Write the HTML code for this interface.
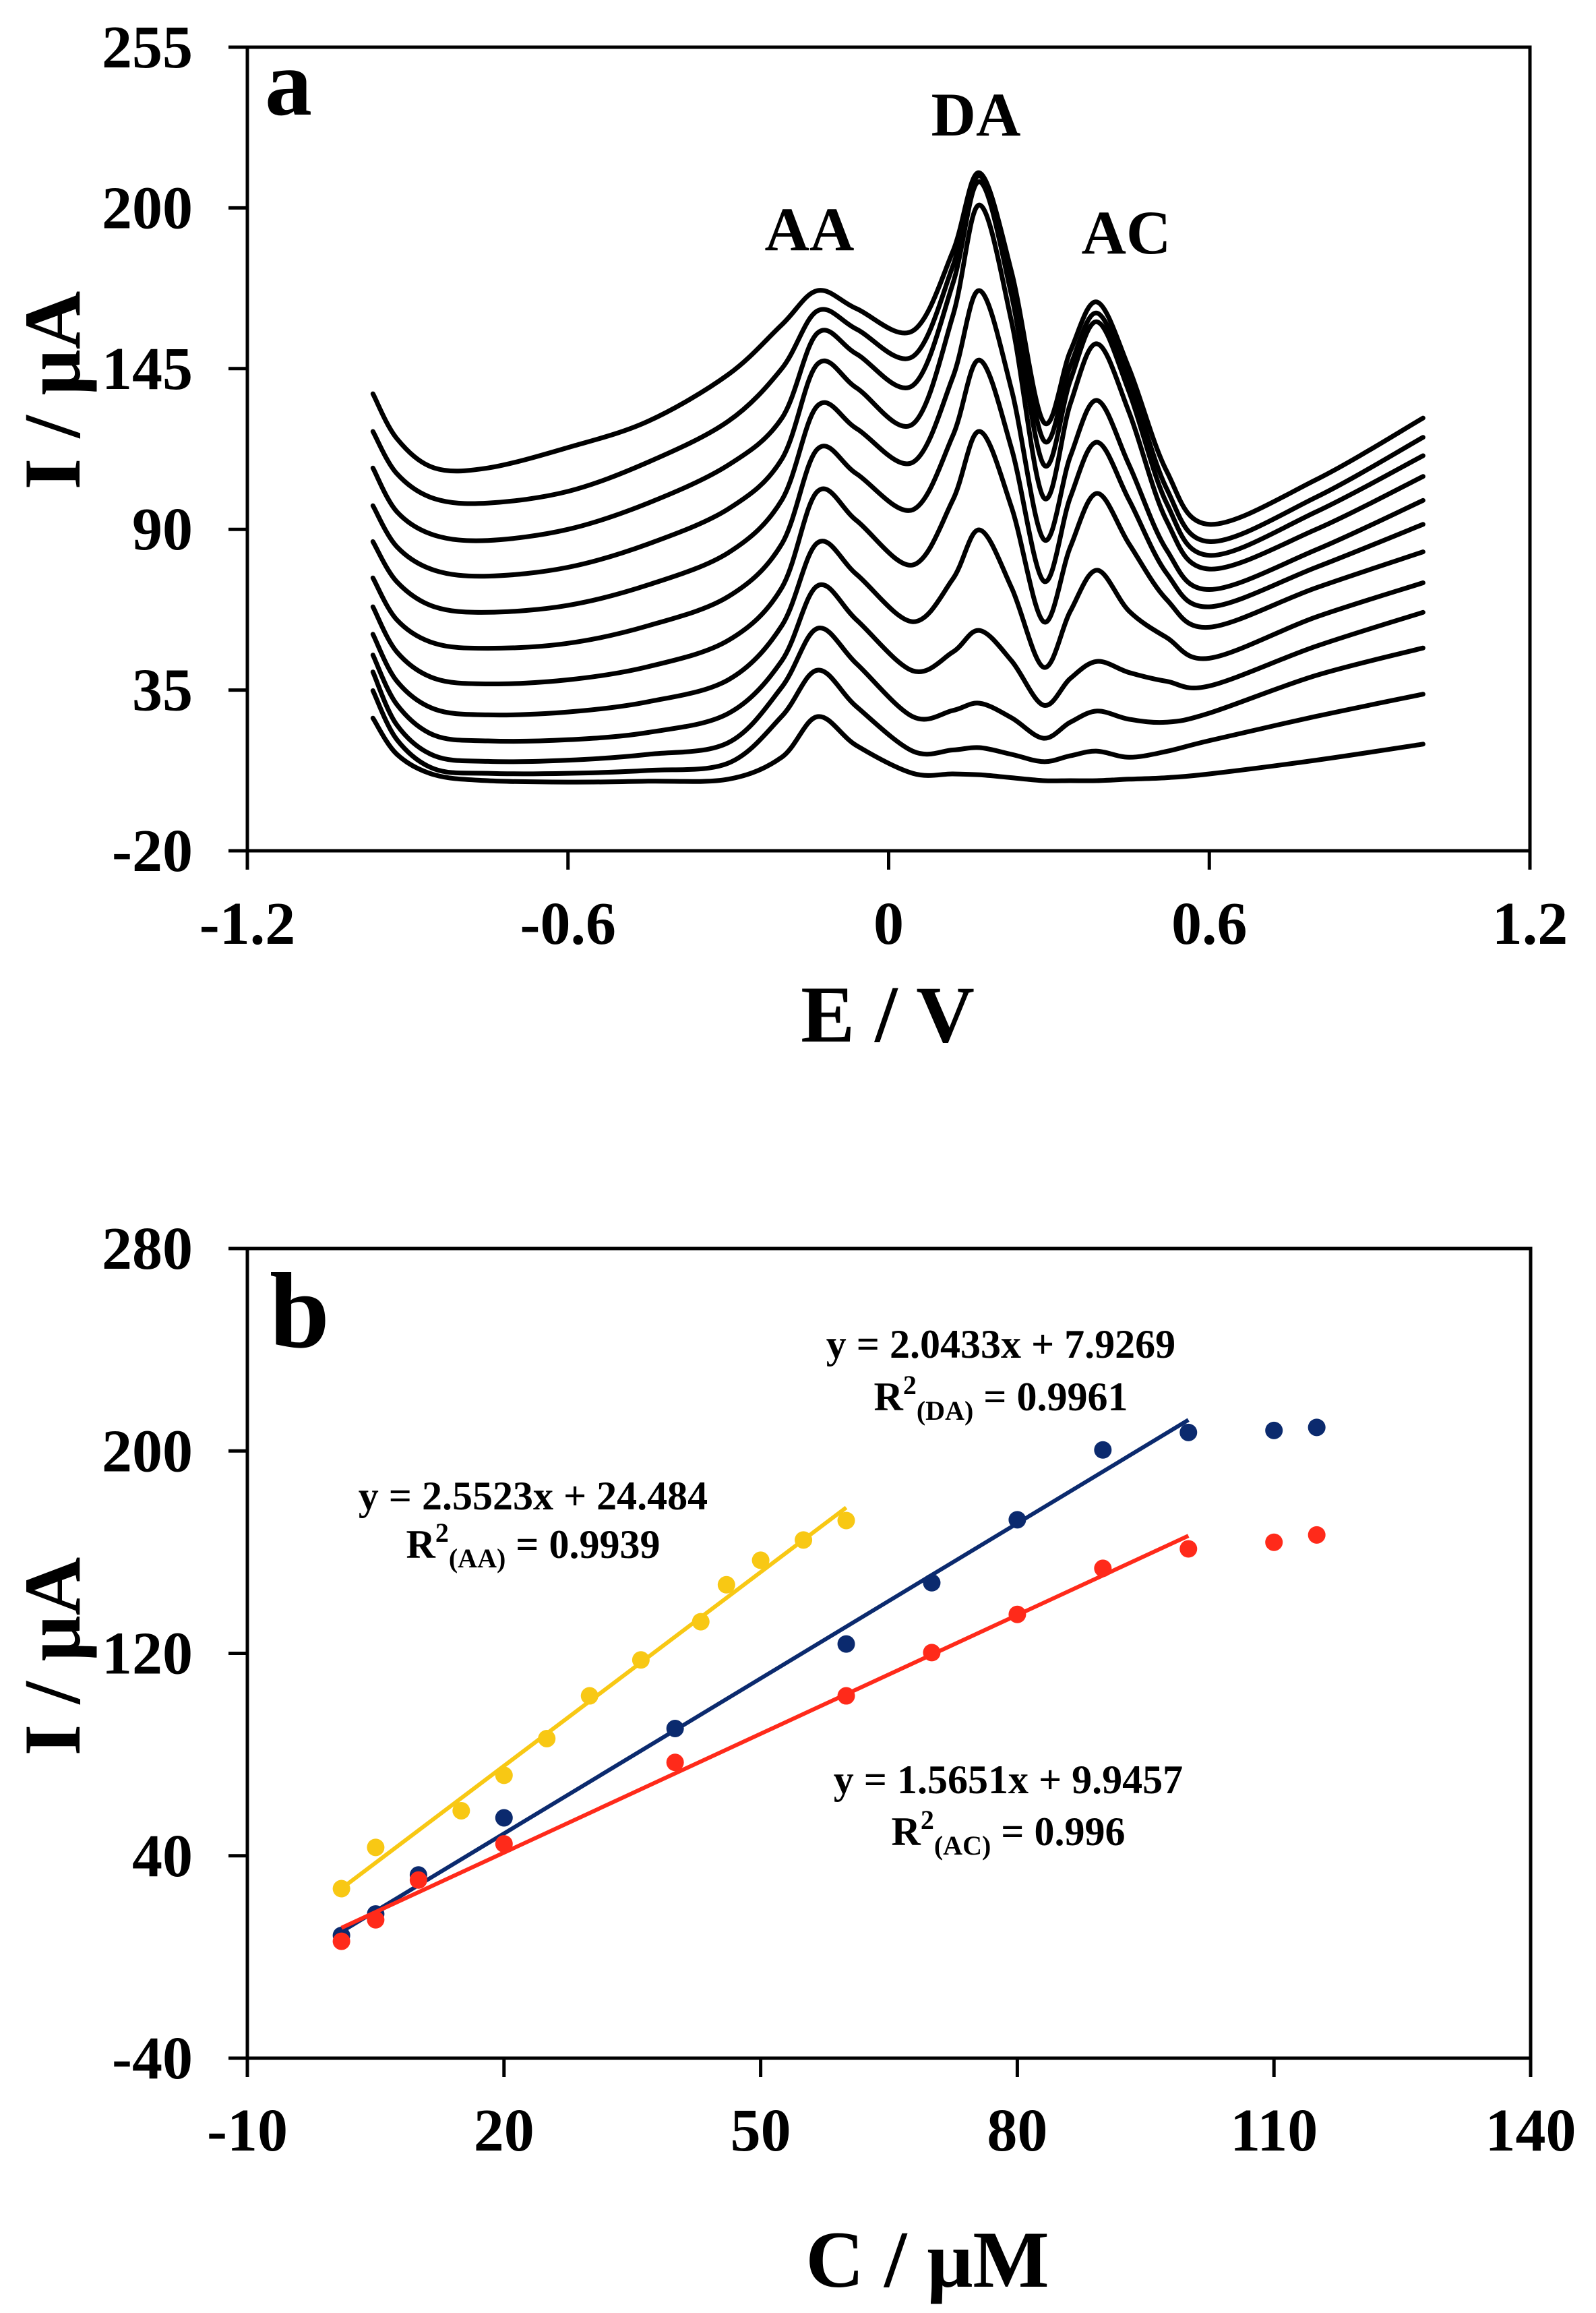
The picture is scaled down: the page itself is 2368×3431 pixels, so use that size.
<!DOCTYPE html>
<html><head><meta charset="utf-8"><style>
html,body{margin:0;padding:0;background:#fff}
svg{display:block}
text{font-family:"Liberation Serif",serif;font-weight:bold;fill:#000}
</style></head><body>
<svg id="fig" width="2368" height="3431" viewBox="0 0 2368 3431" xmlns="http://www.w3.org/2000/svg">
<g id="pa"></g>
<g id="pb"></g>
</svg>
<script>
// ---------- Panel a data ----------
const aXTicks = [-1.2, -0.6, 0, 0.6, 1.2];
const aXTickLabels = ["-1.2", "-0.6", "0", "0.6", "1.2"];
const aYTicks = [255, 200, 145, 90, 35, -20];
const aYTickLabels = ["255", "200", "145", "90", "35", "-20"];
const aE = [-0.965, -0.92, -0.85, -0.75, -0.6, -0.45, -0.3, -0.2, -0.133, -0.06, 0.045, 0.12, 0.17, 0.23, 0.29, 0.34, 0.39, 0.45, 0.52, 0.6, 0.8, 1.0];
const aC0  = [25.4, 13, 6, 4, 3.5, 3.8, 4.5, 12, 25.9, 16, 6.5, 6.3, 6, 5, 4, 4, 4, 4.5, 5, 6.3, 11, 16.5];
const aC1  = [34.8, 18, 8, 6.5, 6.5, 7.5, 10, 26, 41.8, 29.3, 14.1, 14.5, 15.3, 13, 10.5, 12.5, 14.1, 12, 14, 17.7, 26, 33.6];
const aC2  = [41.2, 23, 12.5, 10.6, 11, 13, 17, 36, 56.1, 44, 25.9, 28, 30.5, 25.5, 18.5, 24, 27.8, 25, 24, 27.1, 40, 49.4];
const aC3  = [47.0, 30, 19.5, 17.6, 18, 20.5, 27, 45, 70.7, 59, 41.6, 48, 55.4, 45, 29.8, 39, 44.8, 41, 38, 36.4, 50, 61.6];
const aC4  = [54.1, 38, 28.5, 26.5, 27.5, 31, 38.5, 57, 85.4, 74.6, 58.4, 73, 89.8, 70, 42.8, 62, 76, 62, 53, 45.9, 60, 71.7];
const aC5  = [63.5, 48, 39, 37.1, 38.5, 43, 52, 70, 103, 93, 77.8, 100, 123.5, 97.5, 58.4, 84, 102.3, 85, 66, 56.5, 70, 82.3];
const aC6  = [73.4, 59, 51, 49.3, 51, 57, 67, 85, 117.5, 109, 96.7, 122, 147.9, 117.6, 72.3, 101, 119.8, 100, 75, 63.5, 77, 91.7];
const aC7  = [85.8, 72, 63.5, 61.6, 64, 71, 82, 100, 132.3, 124.5, 112.9, 142, 171.7, 137.7, 86.6, 115, 134.1, 112, 83, 69.4, 83, 99.9];
const aC8  = [98.1, 84, 76, 74, 77, 85, 97, 114, 146.6, 138.4, 126, 163, 201, 161, 100.9, 133, 153.5, 130, 93, 76.4, 90, 108.1];
const aC9  = [111.0, 96, 88, 86.2, 90, 99, 112, 128, 157.2, 150, 139.2, 174, 209, 170, 112.2, 141, 161, 137, 99, 81.1, 96, 115.2];
const aC10 = [123.5, 109, 100.5, 99, 103, 113, 127, 145, 164.8, 158.5, 149.1, 180, 211, 175, 120.5, 146, 164, 141, 104, 85.8, 101, 121.5];
const aC11 = [136.4, 121, 111, 111, 118, 127, 143, 160, 171.7, 165.5, 157.9, 185, 212, 178, 126.7, 151, 167.8, 145, 110, 91.7, 107, 128.1];
const aCurves = [aC0, aC1, aC2, aC3, aC4, aC5, aC6, aC7, aC8, aC9, aC10, aC11];

// ---------- Panel b data ----------
const bXTicks = [-10, 20, 50, 80, 110, 140];
const bXTickLabels = ["-10", "20", "50", "80", "110", "140"];
const bYTicks = [280, 200, 120, 40, -40];
const bYTickLabels = ["280", "200", "120", "40", "-40"];
const aaX = [1, 5, 15, 20, 25, 30, 36, 43, 46, 50, 55, 60];
const aaY = [27, 43.3, 57.8, 71.8, 86.3, 103.2, 117.4, 132.5, 147.1, 156.8, 164.8, 172.5];
const daX = [1, 5, 10, 20, 40, 60, 70, 80, 90, 100, 110, 115];
const daY = [8.5, 17.0, 32.4, 55.0, 90.3, 123.7, 147.9, 172.8, 200.4, 207.3, 208.1, 209.3];
const acX = [1, 5, 10, 20, 40, 60, 70, 80, 90, 100, 110, 115];
const acY = [6.2, 14.7, 30.4, 44.7, 76.9, 103.2, 120.3, 135.4, 153.6, 161.3, 163.9, 166.8];
const fitSlope = [2.5523, 2.0433, 1.5651];
const fitIntercept = [24.484, 7.9269, 9.9457];
const fitRange = [[1, 60], [1, 100], [1, 100]];

const NS = "http://www.w3.org/2000/svg";
function mk(parent, tag, attrs, text) {
  const el = document.createElementNS(NS, tag);
  for (const k in attrs) el.setAttribute(k, attrs[k]);
  if (text !== undefined) el.textContent = text;
  parent.appendChild(el);
  return el;
}

// ---------- Panel a ----------
(function () {
  const g = document.getElementById('pa');
  const L = 367, R = 2270, T = 70, B = 1262;
  const sx = v => L + (v - (-1.2)) / 2.4 * (R - L);
  const sy = v => B - (v - (-20)) / 275 * (B - T);
  const box = mk(g, 'rect', {x: L, y: T, width: R - L, height: B - T, fill: 'none', stroke: '#000', 'stroke-width': 5});
  
  
  aXTicks.forEach((t, i) => {
    const ln = mk(g, 'line', {x1: sx(t), x2: sx(t), y1: B, y2: B + 28, stroke: '#000', 'stroke-width': 5});
    
    
    const tx = mk(g, 'text', {x: sx(t), y: 1400, 'font-size': 90, 'text-anchor': 'middle'}, aXTickLabels[i]);
    
    
  });
  aYTicks.forEach((t, i) => {
    const ln = mk(g, 'line', {x1: L - 28, x2: L, y1: sy(t), y2: sy(t), stroke: '#000', 'stroke-width': 5});
    
    
    const tx = mk(g, 'text', {x: 286, y: sy(t) + 30, 'font-size': 90, 'text-anchor': 'end'}, aYTickLabels[i]);
    
    
  });
  aCurves.forEach((c, ci) => {
    const pts = aE.map((e, i) => [sx(e), sy(c[i])]);
    let d = 'M' + pts[0][0].toFixed(1) + ',' + pts[0][1].toFixed(1);
    for (let i = 0; i < pts.length - 1; i++) {
      const p0 = pts[Math.max(0, i - 1)], p1 = pts[i], p2 = pts[i + 1], p3 = pts[Math.min(pts.length - 1, i + 2)];
      const c1x = p1[0] + (p2[0] - p0[0]) / 6, c1y = p1[1] + (p2[1] - p0[1]) / 6;
      const c2x = p2[0] - (p3[0] - p1[0]) / 6, c2y = p2[1] - (p3[1] - p1[1]) / 6;
      d += ' C' + c1x.toFixed(1) + ',' + c1y.toFixed(1) + ' ' + c2x.toFixed(1) + ',' + c2y.toFixed(1) + ' ' + p2[0].toFixed(1) + ',' + p2[1].toFixed(1);
    }
    const p = mk(g, 'path', {d: d, fill: 'none', stroke: '#000', 'stroke-width': 7, 'stroke-linejoin': 'round', 'stroke-linecap': 'round'});
    
    
  });
  const labs = [['a', 393, 170, 140, 'start', 'panel-label-a'], ['AA', 1201, 371, 92, 'middle', 'peak-label-aa'], ['DA', 1448, 201, 92, 'middle', 'peak-label-da'], ['AC', 1671, 376, 92, 'middle', 'peak-label-ac'], ['E / V', 1317, 1545, 120, 'middle', 'x-axis-title-a']];
  labs.forEach(l => {
    const t = mk(g, 'text', {x: l[1], y: l[2], 'font-size': l[3], 'text-anchor': l[4]}, l[0]);
    
    
  });
  const yt = mk(g, 'text', {x: 0, y: 0, 'font-size': 120, 'text-anchor': 'middle', transform: 'translate(118,579) rotate(-90)'}, 'I / μA');
  
  
})();

// ---------- Panel b ----------
(function () {
  const g = document.getElementById('pb');
  const L = 367, R = 2271, T = 1852, B = 3053;
  const sx = v => L + (v - (-10)) / 150 * (R - L);
  const sy = v => B - (v - (-40)) / 320 * (B - T);
  const box = mk(g, 'rect', {x: L, y: T, width: R - L, height: B - T, fill: 'none', stroke: '#000', 'stroke-width': 5});
  
  
  bXTicks.forEach((t, i) => {
    const ln = mk(g, 'line', {x1: sx(t), x2: sx(t), y1: B, y2: B + 28, stroke: '#000', 'stroke-width': 5});
    
    
    const tx = mk(g, 'text', {x: sx(t), y: 3190, 'font-size': 90, 'text-anchor': 'middle'}, bXTickLabels[i]);
    
    
  });
  bYTicks.forEach((t, i) => {
    const ln = mk(g, 'line', {x1: L - 28, x2: L, y1: sy(t), y2: sy(t), stroke: '#000', 'stroke-width': 5});
    
    
    const tx = mk(g, 'text', {x: 286, y: sy(t) + 30, 'font-size': 90, 'text-anchor': 'end'}, bYTickLabels[i]);
    
    
  });
  const colors = ['#f8c814', '#0b2a6e', '#ff2a1a'];
  const names = ['aa', 'da', 'ac'];
  const xs = [aaX, daX, acX], ys = [aaY, daY, acY];
  for (let s = 0; s < 3; s++) {
    const x0 = fitRange[s][0], x1 = fitRange[s][1];
    const ln = mk(g, 'line', {x1: sx(x0), y1: sy(fitSlope[s] * x0 + fitIntercept[s]), x2: sx(x1), y2: sy(fitSlope[s] * x1 + fitIntercept[s]), stroke: colors[s], 'stroke-width': 6});
    
    
    xs[s].forEach((xv, i) => {
      const c = mk(g, 'circle', {cx: sx(xv), cy: sy(ys[s][i]), r: 13, fill: colors[s]});
      
      
    });
  }
  const labs = [['b', 400, 1998, 160, 'panel-label-b'], ['y = 2.0433x + 7.9269', 1485, 2014, 60, 'equation-da'], ['y = 2.5523x + 24.484', 791, 2239, 60, 'equation-aa'], ['y = 1.5651x + 9.9457', 1496, 2660, 60, 'equation-ac'], ['C / μM', 1376, 3392, 120, 'x-axis-title-b']];
  labs.forEach((l, i) => {
    const t = mk(g, 'text', {x: l[1], y: l[2], 'font-size': l[3], 'text-anchor': i === 0 ? 'start' : 'middle'}, l[0]);
    
    
  });
  const r2 = [['(DA)', ' = 0.9961', 1485, 2092, 'r-squared-da'], ['(AA)', ' = 0.9939', 791, 2311, 'r-squared-aa'], ['(AC)', ' = 0.996', 1496, 2737, 'r-squared-ac']];
  r2.forEach(r => {
    const t = mk(g, 'text', {x: r[2], y: r[3], 'font-size': 60, 'text-anchor': 'middle'});
    
    
    mk(t, 'tspan', {}, 'R');
    mk(t, 'tspan', {dy: -24, 'font-size': 40}, '2');
    mk(t, 'tspan', {dy: 38, 'font-size': 40}, r[0]);
    mk(t, 'tspan', {dy: -14}, r[1]);
  });
  const yt = mk(g, 'text', {x: 0, y: 0, 'font-size': 120, 'text-anchor': 'middle', transform: 'translate(118,2457) rotate(-90)'}, 'I / μA');
  
  
})();
</script>
</body></html>
